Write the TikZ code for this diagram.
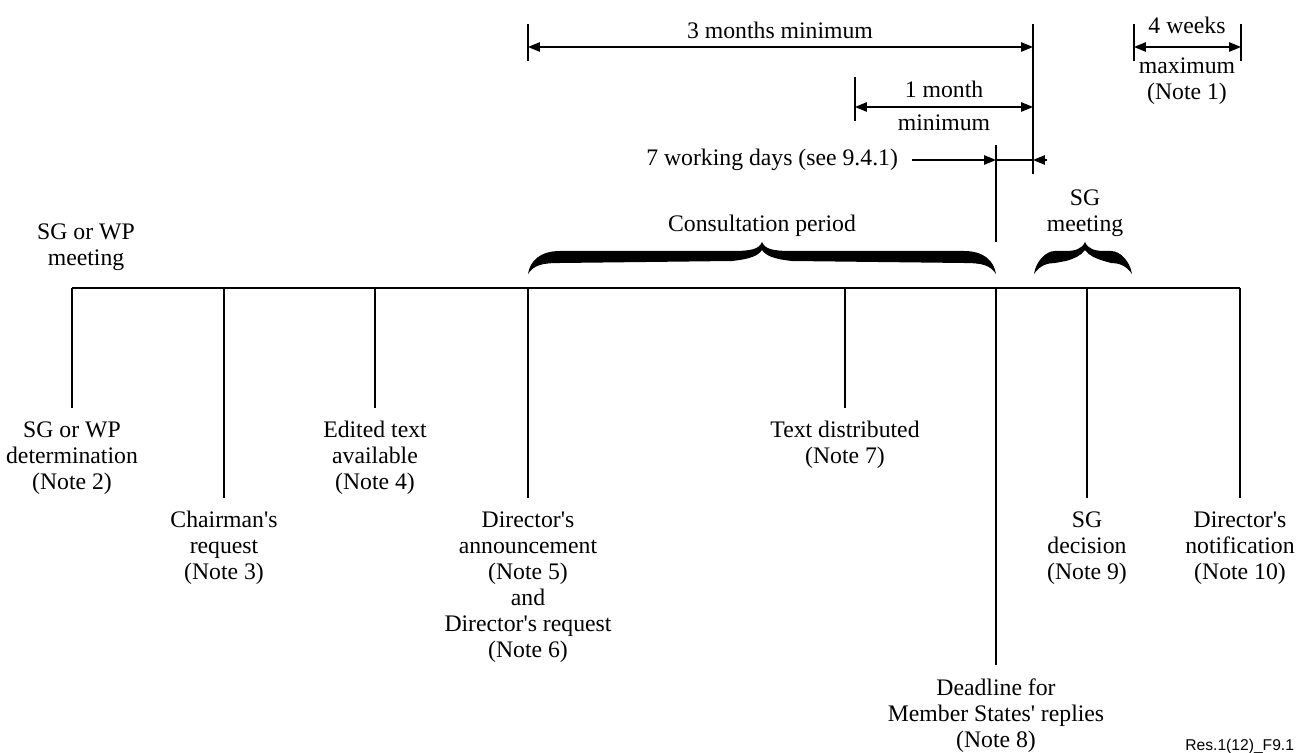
\documentclass[tikz,border=0pt]{standalone}
\usepackage{fontspec}
\setmainfont{Liberation Serif}
\setsansfont{Liberation Sans}
\usetikzlibrary{arrows.meta}
\newcommand{\ap}{\textquotesingle}

\begin{document}
\begin{tikzpicture}[x=0.02cm, y=-0.02cm,
    every node/.style={font=\fontsize{13.5}{14.8}\selectfont, inner sep=0pt},
    note/.style={align=center, anchor=north, inner ysep=7.5pt},
    tick/.style={line width=0.7pt},
    dim/.style={tick, {Triangle[length=6.8pt,width=5.4pt]}-{Triangle[length=6.8pt,width=5.4pt]}}]
    \useasboundingbox (0,0) rectangle (1296,753);
    % time line
    \draw[line width=1pt] (72,288) coordinate (t1) -- (1240,288) coordinate (t8);
    \foreach \n/\x in {2/224,3/375,4/528,5/845,6/996,7/1087}
      \coordinate (t\n) at (\x,288);
    \node[note] (d1) at (72,408) {SG or WP\\determination\\(Note 2)};
    \node[note] (d2) at (224,498) {Chairman\ap s\\request\\(Note 3)};
    \node[note] (d3) at (375,408) {Edited text\\available\\(Note 4)};
    \node[note] (d4) at (528,498) {Director\ap s\\announcement\\(Note 5)\\and\\Director\ap s request\\(Note 6)};
    \node[note] (d5) at (845,408) {Text distributed\\(Note 7)};
    \node[note] (d6) at (996,665) {Deadline for\\Member States\ap\ replies\\(Note 8)};
    \node[note] (d7) at (1087,498) {SG\\decision\\(Note 9)};
    \node[note] (d8) at (1240,498) {Director\ap s\\notification\\(Note 10)};
    \foreach \n in {1,...,8}
      \draw[tick] (t\n) -- (d\n);
    \node[align=center] (meet) at (86,247) {SG or WP\\meeting};
    % braces
    \foreach \a/\m/\b/\e/\t in {528/762/996/32/30, 1034/1085/1132/21/19}
      \fill (\a,274) .. controls ({\a+2},261) and ({\a+12},251) .. ({\a+\e},251)
        -- ({\m-\t},251) .. controls ({\m-10},251) and ({\m-3},249) .. (\m,242)
        .. controls ({\m+3},249) and ({\m+10},251) .. ({\m+\t},251)
        -- ({\b-\e},251) .. controls ({\b-12},251) and ({\b-2},261) .. (\b,274)
        .. controls ({\b-6},265) and ({\b-14},263) .. ({\b-\e},263)
        -- ({\m+\t},261) .. controls ({\m+12},259) and ({\m+4},256) .. (\m,250)
        .. controls ({\m-4},256) and ({\m-12},259) .. ({\m-\t},261)
        -- ({\a+\e},263) .. controls ({\a+14},263) and ({\a+6},265) .. (\a,274) -- cycle;
    \node (cons) at (762,226) {Consultation period};
    \node[align=center] (sgm) at (1085,213) {SG\\meeting};
    % limits
    \coordinate (endtop) at (1033,24);
    \coordinate (endbot) at (1033,174);
    \draw[tick] (endtop) -- (endbot);
    \coordinate (deadtop) at (996,145);
    \coordinate (deadbot) at (996,242);
    \draw[tick] (deadtop) -- (deadbot);
    \coordinate (m3top) at (528,24);
    \coordinate (m3bot) at (528,61);
    \draw[tick] (m3top) -- (m3bot);
    \coordinate (m1top) at (855,77);
    \coordinate (m1bot) at (855,121);
    \draw[tick] (m1top) -- (m1bot);
    \coordinate (w4atop) at (1134,24);
    \coordinate (w4abot) at (1134,61);
    \draw[tick] (w4atop) -- (w4abot);
    \coordinate (w4btop) at (1241,24);
    \coordinate (w4bbot) at (1241,61);
    \draw[tick] (w4btop) -- (w4bbot);
    % dimension arrows
    \coordinate (m3l) at (528,47);
    \coordinate (m3r) at (1033,47);
    \draw[dim] (m3l) -- (m3r);
    \node (m3txt) at (780,30) {3 months minimum};
    \coordinate (m1l) at (855,107);
    \coordinate (m1r) at (1033,107);
    \draw[dim] (m1l) -- (m1r);
    \node (m1txt) at (944,89) {1 month};
    \node (m1min) at (944,123) {minimum};
    \coordinate (w4l) at (1134,47);
    \coordinate (w4r) at (1241,47);
    \draw[dim] (w4l) -- (w4r);
    \node (w4txt) at (1187,25) {4 weeks};
    \node[align=center] (w4max) at (1187,81) {maximum\\(Note 1)};
    \node[anchor=east, inner xsep=7.8pt] (wd) at (912,160) {7 working days (see 9.4.1)};
    \coordinate (wdtip) at (996,160);
    \coordinate (wdmid) at (1033,160);
    \coordinate (wdend) at (1047,160);
    \draw[tick, -{Triangle[length=6.8pt,width=5.4pt]}] (wd) -- (wdtip);
    \draw[tick] (wdtip) -- (wdmid);
    \draw[tick, {Triangle[length=6.8pt,width=5.4pt]}-] (wdmid) -- (wdend);
    \node[anchor=west, font=\sffamily\fontsize{8.9}{10}\selectfont] (ref) at (1185,746) {Res.1(12)\_F9.1};
\end{tikzpicture}
\end{document}
